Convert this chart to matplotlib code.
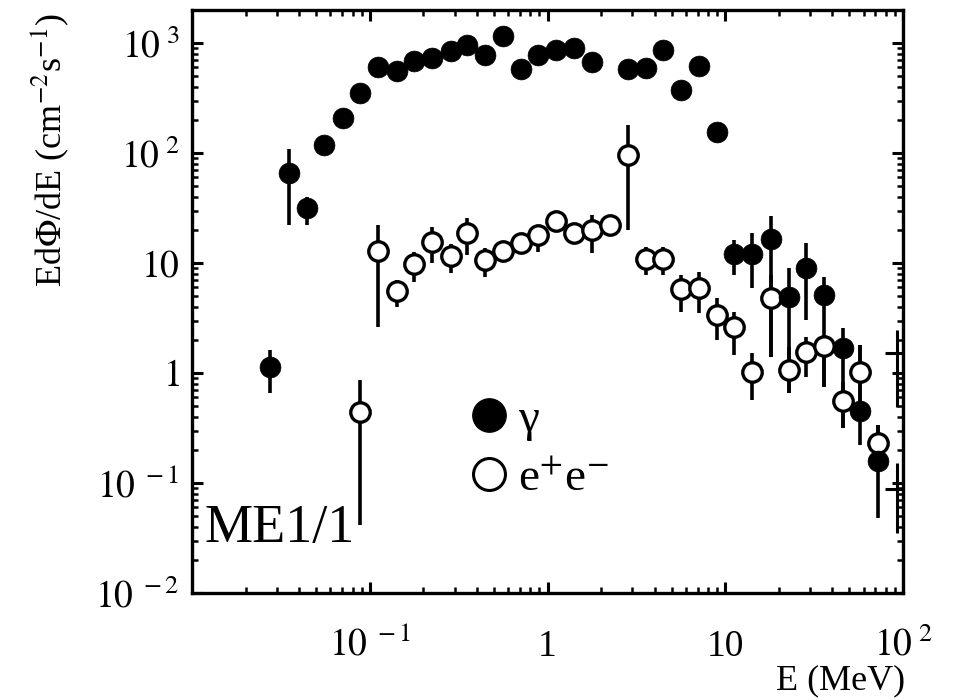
#!/usr/bin/env python3
# -*- coding: utf-8 -*-
"""
ME1/1 のエネルギースペクトル (γ と e+e-) を両対数で描く。
"""
import numpy as np
import matplotlib
matplotlib.use("Agg")
import matplotlib.pyplot as plt
from matplotlib.lines import Line2D
from matplotlib.ticker import FixedLocator, FixedFormatter, LogLocator, NullFormatter

plt.rcParams["font.family"] = ["Liberation Serif", "DejaVu Serif"]
plt.rcParams["mathtext.fontset"] = "stix"

# gamma (filled circles)
gam_e = [0.0275, 0.0351, 0.0444, 0.0553, 0.0708, 0.0881, 0.111, 0.142, 0.177, 0.224,
         0.287, 0.352, 0.445, 0.562, 0.710, 0.885, 1.12, 1.41, 1.78, 2.84,
         3.58, 4.47, 5.64, 7.11, 8.99, 11.2, 14.1, 18.1, 22.8, 28.5,
         35.9, 45.9, 57.3, 72.3]
gam_y = [1.13, 65.8, 31.6, 118, 208, 351, 605, 556, 686, 731,
         846, 959, 778, 1158, 580, 778, 864, 901, 672, 580,
         593, 864, 374, 618, 155, 12.1, 12.1, 16.5, 4.91, 9.0,
         5.12, 1.69, 0.45, 0.158]
gam_lo = [0.66, 22.1, 22.1, 100, 180, 320, 560, 520, 640, 690,
          800, 900, 730, 1100, 540, 730, 820, 850, 630, 540,
          550, 820, 350, 580, 140, 7.8, 5.9, 1.40, 0.66, 3.03,
          0.75, 0.316, 0.22, 0.048]
gam_hi = [1.62, 108.7, 39.8, 135, 235, 385, 650, 600, 730, 780,
          890, 1020, 830, 1220, 620, 830, 910, 950, 720, 620,
          640, 910, 400, 660, 170, 16.2, 18.7, 26.7, 9.0, 15.2,
          7.46, 2.56, 1.8, 0.337]

# e+e- (open circles)
ee_e = [0.0881, 0.111, 0.142, 0.177, 0.224, 0.287, 0.352, 0.445, 0.562, 0.710,
        0.885, 1.12, 1.41, 1.78, 2.25, 2.84, 3.58, 4.47, 5.64, 7.11,
        8.99, 11.2, 14.1, 18.1, 22.8, 28.5, 35.9, 45.9, 57.3, 72.3]
ee_y = [0.44, 12.9, 5.56, 9.8, 15.5, 11.6, 18.7, 10.6, 12.9, 15.2,
        18.0, 24.1, 18.7, 20.0, 22.1, 95.9, 10.9, 10.9, 5.80, 5.93,
        3.37, 2.62, 1.02, 4.81, 1.06, 1.55, 1.76, 0.556, 1.02, 0.231]
ee_lo = [0.0415, 2.62, 3.98, 6.7, 10.0, 8.1, 11.8, 7.46, 11.5, 13.5,
         12.6, 21.5, 16.5, 12.3, 19.5, 20.0, 7.78, 7.78, 3.59, 3.51,
         2.0, 1.46, 0.57, 1.40, 0.66, 0.92, 0.75, 0.316, 0.46, 0.131]
ee_hi = [0.86, 22.1, 7.0, 12.7, 21.2, 14.8, 25.6, 13.6, 14.5, 17.0,
         20.5, 27.0, 21.0, 27.3, 25.0, 180, 14.0, 14.0, 7.78, 8.28,
         4.81, 3.59, 1.52, 7.78, 1.72, 2.12, 2.21, 0.83, 1.8, 0.337]

# points at the right edge (markers cut off by the frame)
edge_e = [93.0, 93.0]
edge_y = [1.52, 0.088]
edge_lo = [0.49, 0.035]
edge_hi = [2.46, 0.152]
edge_elo = [79.0, 79.0]
edge_ehi = [99.0, 99.0]

xtick_vals = [0.1, 1, 10, 100]
xtick_text = [r"$10^{\ -1}$", "1", "10", r"$10^{\ 2}$"]
ytick_vals = [0.01, 0.1, 1, 10, 100, 1000]
ytick_text = [r"$10^{\ -2}$", r"$10^{\ -1}$", r"$1^{\ \ \ \ }$",
              r"$10^{\ \ \ \ }$", r"$10^{\ 2}$", r"$10^{\ 3}$"]


def asym_err(y, lo, hi):
    y = np.array(y, dtype=float)
    return np.vstack([y - np.array(lo), np.array(hi) - y])


fig = plt.figure(figsize=(9.57, 7.0), dpi=100)
ax = fig.add_axes([192 / 957, 1 - 593 / 700, 711 / 957, 583 / 700])
ax.set_xscale("log")
ax.set_yscale("log")
ax.set_xlim(0.01, 100)
ax.set_ylim(0.01, 10 ** 3.3)

# error bars first
ax.errorbar(gam_e, gam_y, yerr=asym_err(gam_y, gam_lo, gam_hi), fmt="none",
            ecolor="black", elinewidth=2.6, capsize=0, zorder=2)
ax.errorbar(ee_e, ee_y, yerr=asym_err(ee_y, ee_lo, ee_hi), fmt="none",
            ecolor="black", elinewidth=2.6, capsize=0, zorder=2)
ax.errorbar(edge_e, edge_y, yerr=asym_err(edge_y, edge_lo, edge_hi),
            xerr=asym_err(edge_e, edge_elo, edge_ehi), fmt="none",
            ecolor="black", elinewidth=2.2, capsize=0, zorder=2)

ax.plot(ee_e, ee_y, "o", ms=14, mfc="white", mec="black", mew=2.4, zorder=3)
ax.plot(gam_e, gam_y, "o", ms=15, mfc="black", mec="black", mew=0.5, zorder=4)

# ticks
ax.xaxis.set_major_locator(FixedLocator(xtick_vals))
ax.xaxis.set_major_formatter(FixedFormatter(xtick_text))
ax.yaxis.set_major_locator(FixedLocator(ytick_vals))
ax.yaxis.set_major_formatter(FixedFormatter(ytick_text))
for axis in (ax.xaxis, ax.yaxis):
    axis.set_minor_locator(LogLocator(base=10, subs=np.arange(2, 10), numticks=20))
    axis.set_minor_formatter(NullFormatter())

ax.tick_params(which="both", direction="in", top=True, right=True, colors="black")
ax.tick_params(which="major", length=8, width=2.2, labelsize=27)
ax.tick_params(which="minor", length=4.5, width=1.8)
ax.tick_params(axis="y", which="major", pad=9)
ax.tick_params(axis="x", which="major", pad=45)
for t in ax.xaxis.get_major_ticks():
    t.label1.set_va("baseline")
for s in ax.spines.values():
    s.set_linewidth(2.4)

ax.text(0.018, 0.088, "ME1/1", transform=ax.transAxes, fontsize=39,
        ha="left", va="baseline")

handles = [Line2D([], [], ls="none", marker="o", ms=24, mfc="black", mec="black"),
           Line2D([], [], ls="none", marker="o", ms=23, mfc="white", mec="black", mew=2.2)]
ax.legend(handles, ["γ", r"e$^{+}$e$^{-}$"], loc="upper left",
          bbox_to_anchor=(0.365, 0.375), frameon=False, fontsize=34,
          handlelength=0.6, handletextpad=0.3, labelspacing=0.35, borderpad=0)

fig.text(50 / 957, 1 - 150 / 700, r"Ed$\Phi$/dE (cm$^{-2}$s$^{-1}$)", rotation=90,
         ha="center", va="center", fontsize=26)
fig.text(905 / 957, 1 - 689 / 700, "E (MeV)", ha="right", va="baseline", fontsize=26)

fig.savefig("out.png", dpi=100, facecolor="white")
